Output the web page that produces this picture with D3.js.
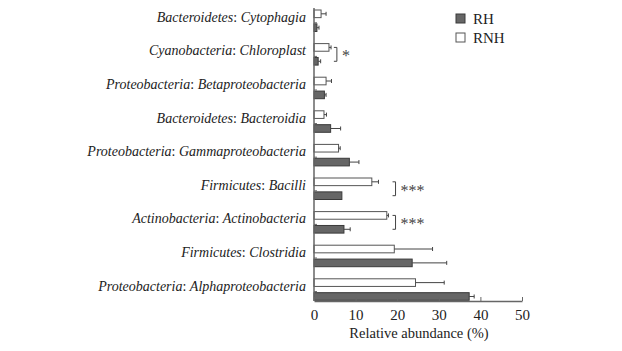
<!DOCTYPE html>
<html>
<head>
<meta charset="utf-8">
<script src="https://cdn.jsdelivr.net/npm/d3@7"></script>
</head>
<body style="margin:0; background:#fff">
<svg id="chart" width="622" height="351" font-family="Liberation Serif"></svg>
<script>
// phylum : class, top to bottom
const phyla = ["Bacteroidetes", "Cyanobacteria", "Proteobacteria", "Bacteroidetes", "Proteobacteria",
               "Firmicutes", "Actinobacteria", "Firmicutes", "Proteobacteria"];
const classes = ["Cytophagia", "Chloroplast", "Betaproteobacteria", "Bacteroidia", "Gammaproteobacteria",
                 "Bacilli", "Actinobacteria", "Clostridia", "Alphaproteobacteria"];

// relative abundance (%) and error
const rnhValues = [1.7, 3.6, 2.9, 2.4, 5.9, 13.9, 17.5, 19.3, 24.4];
const rnhErrors = [1.2, 0.5, 1.3, 0.6, 0.4, 1.6, 0.4, 9.2, 6.9];
const rhValues  = [0.7, 1.0, 2.5, 4.0, 8.5, 6.7, 7.2, 23.6, 37.3];
const rhErrors  = [0.5, 0.6, 0.4, 2.4, 2.3, 0, 1.5, 8.3, 1.2];

const xTicks = [0, 10, 20, 30, 40, 50];

// significance marks: row index, bracket position (%), label
const sigRows = [1, 5, 6];
const sigPos = [5.5, 19.6, 19.6];
const sigLabels = ["*", "***", "***"];

const FONT = "Liberation Serif";
const svg = d3.select("#chart");
const rows = classes.map((c, i) => ({ phylum: phyla[i], cls: c, i }));

const x = d3.scaleLinear().domain([0, 50]).range([314, 522]);
const y = d3.scaleBand().domain(d3.range(classes.length)).range([4, 306.4]).paddingInner(0);
const sub = d3.scaleBand().domain(["RNH", "RH"]).range([6, 27.5]).paddingInner(0.45);

const axisColor = "#666";

// bars
const series = [
  { key: "RNH", vals: rnhValues, errs: rnhErrors, fill: "#fff", stroke: "#555" },
  { key: "RH", vals: rhValues, errs: rhErrors, fill: "#666", stroke: "#3a3a3a" }
];

series.forEach(s => {
  const g = svg.append("g");
  g.selectAll("rect")
    .data(rows)
    .enter().append("rect")
    .attr("x", x(0))
    .attr("y", d => y(d.i) + sub(s.key))
    .attr("width", d => x(s.vals[d.i]) - x(0))
    .attr("height", sub.bandwidth())
    .attr("fill", s.fill)
    .attr("stroke", s.stroke)
    .attr("stroke-width", 1);

  const eb = g.selectAll("g.err")
    .data(rows.filter(d => s.errs[d.i] > 0))
    .enter().append("g").attr("class", "err")
    .attr("stroke", "#444").attr("stroke-width", 1);
  eb.append("line")
    .attr("x1", d => x(s.vals[d.i]))
    .attr("x2", d => x(s.vals[d.i] + s.errs[d.i]))
    .attr("y1", d => y(d.i) + sub(s.key) + sub.bandwidth() / 2)
    .attr("y2", d => y(d.i) + sub(s.key) + sub.bandwidth() / 2);
  eb.append("line")
    .attr("x1", d => x(s.vals[d.i] + s.errs[d.i]))
    .attr("x2", d => x(s.vals[d.i] + s.errs[d.i]))
    .attr("y1", d => y(d.i) + sub(s.key) + sub.bandwidth() / 2 - 2)
    .attr("y2", d => y(d.i) + sub(s.key) + sub.bandwidth() / 2 + 2);
});

// y axis line + small inward ticks
svg.append("line")
  .attr("x1", x(0)).attr("x2", x(0))
  .attr("y1", 8).attr("y2", 301)
  .attr("stroke", axisColor).attr("stroke-width", 1.5);
svg.append("g").selectAll("line")
  .data(rows).enter().append("line")
  .attr("x1", x(0)).attr("x2", x(0) + 3)
  .attr("y1", d => y(d.i) + y.bandwidth() / 2 + 2)
  .attr("y2", d => y(d.i) + y.bandwidth() / 2 + 2)
  .attr("stroke", axisColor);

// category labels
const lab = svg.append("g").selectAll("text")
  .data(rows).enter().append("text")
  .attr("x", 306)
  .attr("y", d => y(d.i) + y.bandwidth() / 2 + 1)
  .attr("text-anchor", "end")
  .attr("font-family", FONT)
  .attr("font-size", 14)
  .attr("fill", "#222");
lab.append("tspan").attr("font-style", "italic").text(d => d.phylum);
lab.append("tspan").text(": ");
lab.append("tspan").attr("font-style", "italic").text(d => d.cls);

// x axis
const xAxis = d3.axisBottom(x).tickValues(xTicks).tickSizeInner(-4).tickSizeOuter(0).tickPadding(8);
const gx = svg.append("g").attr("transform", "translate(0,301)").call(xAxis)
  .attr("font-family", FONT);
gx.select(".domain").attr("stroke", axisColor).attr("stroke-width", 1.5);
gx.selectAll(".tick line").attr("stroke", axisColor);
gx.selectAll(".tick text")
  .attr("font-family", FONT)
  .attr("font-size", 15).attr("fill", "#222");

svg.append("text")
  .attr("x", d3.mean(x.range()) + 1)
  .attr("y", 338)
  .attr("text-anchor", "middle")
  .attr("font-family", FONT)
  .attr("font-size", 14.5)
  .attr("fill", "#222")
  .text("Relative abundance (%)");

// significance brackets
sigRows.forEach((r, k) => {
  const top = y(r) + sub("RNH") + sub.bandwidth() / 2;
  const bot = y(r) + sub("RH") + sub.bandwidth() / 2;
  const bx = x(sigPos[k]);
  svg.append("path")
    .attr("d", `M${bx - 3},${top}H${bx}V${bot}H${bx - 3}`)
    .attr("fill", "none").attr("stroke", "#444").attr("stroke-width", 1);
  svg.append("text")
    .attr("x", bx + 5)
    .attr("y", (top + bot) / 2 + 7)
    .attr("font-family", FONT)
    .attr("font-size", 16)
    .attr("fill", "#444")
    .text(sigLabels[k]);
});

// legend
const legend = svg.append("g").attr("transform", "translate(456,14)");
const legendItems = [
  { key: "RH", fill: "#666", stroke: "#3a3a3a" },
  { key: "RNH", fill: "#fff", stroke: "#555" }
];
legendItems.forEach((it, i) => {
  const g = legend.append("g").attr("transform", `translate(0,${i * 19})`);
  g.append("rect").attr("width", 9).attr("height", 9)
    .attr("fill", it.fill).attr("stroke", it.stroke);
  g.append("text").attr("x", 17).attr("y", 10)
    .attr("font-family", FONT)
    .attr("font-size", 15).attr("fill", "#222").text(it.key);
});
</script>
</body>
</html>
